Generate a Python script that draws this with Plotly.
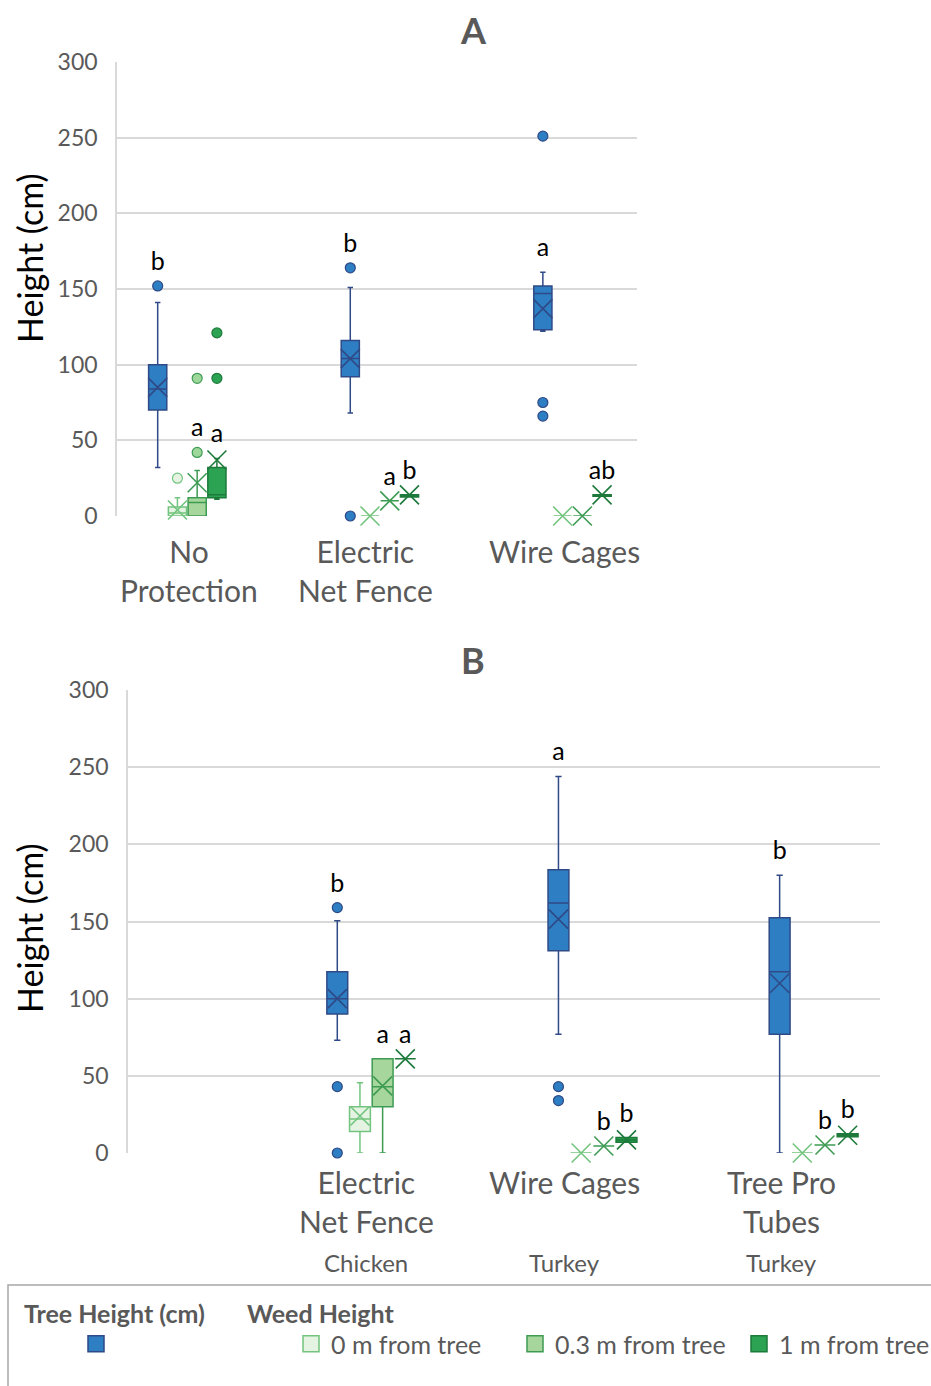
import plotly.graph_objects as go

W, H = 931, 1386
FONT = "Lato, 'Open Sans', sans-serif"
GRAY = "#595959"

# ---------------- Panel A ----------------
cats_a = ["No Protection", "Electric Net Fence", "Wire Cages"]
ticks_a = ["No<br>Protection", "Electric<br>Net Fence", "Wire Cages"]

tree_a_q1 = [70, 92, 123]
tree_a_med = [84, 104, 147]
tree_a_q3 = [100, 116, 152]
tree_a_lo = [32, 68, 122]
tree_a_hi = [141, 151, 161]
tree_a_mean = [85, 104, 137]
tree_a_out = [[152], [164, 0], [251, 75, 66]]
tree_a_sig = ["b", "b", "a"]

w0_a_q1 = [0, 0, 0]
w0_a_med = [2, 0, 0]
w0_a_q3 = [6, 0, 0]
w0_a_lo = [0, 0, 0]
w0_a_hi = [12, 0, 0]
w0_a_mean = [4, 0, 0]
w0_a_out = [[25], [], []]
w0_a_sig = ["", "", ""]

w03_a_q1 = [0, 10, 0]
w03_a_med = [9, 10, 0]
w03_a_q3 = [12, 10, 0]
w03_a_lo = [0, 10, 0]
w03_a_hi = [30, 10, 0]
w03_a_mean = [22, 10, 0]
w03_a_out = [[42, 91], [], []]
w03_a_sig = ["a", "a", ""]

w1_a_q1 = [12, 12.5, 13]
w1_a_med = [14, 13, 14]
w1_a_q3 = [32, 14, 14]
w1_a_lo = [11, 12.5, 13]
w1_a_hi = [38, 14, 14]
w1_a_mean = [37, 14, 14]
w1_a_out = [[91, 121], [], []]
w1_a_sig = ["a", "b", "ab"]

# ---------------- Panel B ----------------
cats_b = ["Electric Net Fence", "Wire Cages", "Tree Pro Tubes"]
ticks_b = ["Electric<br>Net Fence", "Wire Cages", "Tree Pro<br>Tubes"]
animals_b = ["Chicken", "Turkey", "Turkey"]

tree_b_q1 = [90, 131, 77]
tree_b_med = [100, 162, 117.5]
tree_b_q3 = [117.5, 183.5, 152.5]
tree_b_lo = [73, 77, 0]
tree_b_hi = [150.5, 244, 180]
tree_b_mean = [100, 151.5, 110]
tree_b_out = [[159, 43, 0], [43, 34], []]
tree_b_sig = ["b", "a", "b"]

w0_b_q1 = [14, 0, 0]
w0_b_med = [22, 0, 0]
w0_b_q3 = [30, 0, 0]
w0_b_lo = [0, 0, 0]
w0_b_hi = [45.5, 0, 0]
w0_b_mean = [24, 0, 0]
w0_b_out = [[], [], []]
w0_b_sig = ["", "", ""]

w03_b_q1 = [30, 4.5, 5.2]
w03_b_med = [43, 4.5, 5.2]
w03_b_q3 = [61, 4.5, 5.2]
w03_b_lo = [0, 4.5, 5.2]
w03_b_hi = [61, 4.5, 5.2]
w03_b_mean = [43.5, 4.5, 5.2]
w03_b_out = [[], [], []]
w03_b_sig = ["a", "b", "b"]

w1_b_q1 = [61, 7, 10.5]
w1_b_med = [61, 8.5, 11.5]
w1_b_q3 = [61, 10, 12.5]
w1_b_lo = [61, 7, 10.5]
w1_b_hi = [61, 10, 12.5]
w1_b_mean = [61, 8.5, 11.5]
w1_b_out = [[], [], []]
w1_b_sig = ["a", "b", "b"]

series_keys = ["tree", "w0", "w03", "w1"]
series_names = ["", "0 m from tree", "0.3 m from tree", "1 m from tree"]
series_legend = ["legend", "legend2", "legend2", "legend2"]
fill_colors = ["#2E7EC3", "#E4F3E2", "#A6D69B", "#2BA352"]
line_colors = ["#2F4A86", "#72C47E", "#3E9B54", "#1D7A3B"]
dot_fills = ["#2E7EC3", "#E4F3E2", "#9ED79A", "#2BA352"]

# horizontal nudges (px) for the category captions under each panel
label_shift_a = [2, -14, -8]
label_shift_b = [-5, -28, -32]


def pack(q1, med, q3, lo, hi, mean, out, sig):
    return dict(q1=q1, med=med, q3=q3, lo=lo, hi=hi, mean=mean, out=out, sig=sig)


panel_a = [
    pack(tree_a_q1, tree_a_med, tree_a_q3, tree_a_lo, tree_a_hi, tree_a_mean, tree_a_out, tree_a_sig),
    pack(w0_a_q1, w0_a_med, w0_a_q3, w0_a_lo, w0_a_hi, w0_a_mean, w0_a_out, w0_a_sig),
    pack(w03_a_q1, w03_a_med, w03_a_q3, w03_a_lo, w03_a_hi, w03_a_mean, w03_a_out, w03_a_sig),
    pack(w1_a_q1, w1_a_med, w1_a_q3, w1_a_lo, w1_a_hi, w1_a_mean, w1_a_out, w1_a_sig),
]
panel_b = [
    pack(tree_b_q1, tree_b_med, tree_b_q3, tree_b_lo, tree_b_hi, tree_b_mean, tree_b_out, tree_b_sig),
    pack(w0_b_q1, w0_b_med, w0_b_q3, w0_b_lo, w0_b_hi, w0_b_mean, w0_b_out, w0_b_sig),
    pack(w03_b_q1, w03_b_med, w03_b_q3, w03_b_lo, w03_b_hi, w03_b_mean, w03_b_out, w03_b_sig),
    pack(w1_b_q1, w1_b_med, w1_b_q3, w1_b_lo, w1_b_hi, w1_b_mean, w1_b_out, w1_b_sig),
]

fig = go.Figure()


def add_panel(cats, stats, xa, ya):
    # boxes first so they sit under the mean markers and letters
    for i, s in enumerate(stats):
        fig.add_trace(go.Box(
            x=cats, q1=s["q1"], median=s["med"], q3=s["q3"],
            lowerfence=s["lo"], upperfence=s["hi"],
            boxpoints=False, whiskerwidth=0.3,
            fillcolor=fill_colors[i], line=dict(color=line_colors[i], width=1.5),
            name=series_names[i] or "Tree Height (cm)", offsetgroup=series_keys[i],
            showlegend=False, xaxis=xa, yaxis=ya,
        ))
    for i, s in enumerate(stats):
        # mean marker (X)
        fig.add_trace(go.Scatter(
            x=cats, y=s["mean"], mode="markers", offsetgroup=series_keys[i],
            marker=dict(symbol="x-thin-open", size=19, color=line_colors[i],
                        line=dict(color=line_colors[i], width=1.6)),
            cliponaxis=False, showlegend=False, hoverinfo="skip",
            xaxis=xa, yaxis=ya,
        ))
        # outliers
        ox, oy = [], []
        for c, vals in zip(cats, s["out"]):
            ox += [c] * len(vals)
            oy += vals
        fig.add_trace(go.Scatter(
            x=ox, y=oy, mode="markers", offsetgroup=series_keys[i],
            marker=dict(symbol="circle", size=10, color=dot_fills[i],
                        line=dict(color=line_colors[i], width=1.2)),
            cliponaxis=False, showlegend=False,
            xaxis=xa, yaxis=ya,
        ))
        # significance letters, anchored above the upper whisker / nearby outliers
        lx, ly, lt = [], [], []
        for j, c in enumerate(cats):
            if not s["sig"][j]:
                continue
            top = max(s["hi"][j], s["mean"][j], s["q3"][j])
            near = [v for v in s["out"][j] if top < v <= top + 30]
            if near:
                top = max(near)
            lx.append(c)
            ly.append(top)
            lt.append(s["sig"][j])
        fig.add_trace(go.Scatter(
            x=lx, y=ly, text=lt, mode="markers+text", offsetgroup=series_keys[i],
            textposition="top center", textfont=dict(size=25, color="black", family=FONT),
            marker=dict(size=14, color="rgba(0,0,0,0)"),
            cliponaxis=False, showlegend=False, hoverinfo="skip",
            xaxis=xa, yaxis=ya,
        ))


add_panel(cats_a, panel_a, "x", "y")
add_panel(cats_b, panel_b, "x2", "y2")

# legend swatches live on their own hidden axes so they do not join the box groups
for i in range(4):
    fig.add_trace(go.Scatter(
        x=[None], y=[None], mode="markers", name=series_names[i],
        marker=dict(symbol="square", size=16, color=fill_colors[i],
                    line=dict(color=line_colors[i], width=1.5)),
        legend=series_legend[i], showlegend=True, xaxis="x3", yaxis="y3",
    ))

xcommon = dict(type="category", showgrid=False, showline=False, zeroline=False,
               ticks="", showticklabels=False, automargin=False)
ycommon = dict(range=[0, 300], dtick=50, showgrid=True, gridcolor="#D9D9D9", gridwidth=1.5,
               showline=True, linecolor="#D9D9D9", linewidth=1.5, zeroline=False,
               ticks="", tickfont=dict(size=23, color=GRAY, family=FONT),
               ticklabelstandoff=13, automargin=False)

legend_font = dict(size=25, color=GRAY, family=FONT)
fig.update_layout(
    width=W, height=H, template="none",
    paper_bgcolor="white", plot_bgcolor="white",
    margin=dict(l=0, r=0, t=0, b=0, autoexpand=False),
    font=dict(family=FONT, color=GRAY),
    boxmode="group", boxgap=0.59, boxgroupgap=0.08,
    scattermode="group", scattergap=0.59,
    xaxis=dict(xcommon, domain=[117 / W, 637 / W], anchor="y", range=[-0.365, 2.335]),
    yaxis=dict(ycommon, domain=[1 - 516 / H, 1 - 62 / H], anchor="x"),
    xaxis2=dict(xcommon, domain=[128 / W, 880 / W], anchor="y2", range=[-1.1, 2.3]),
    yaxis2=dict(ycommon, domain=[1 - 1153 / H, 1 - 690 / H], anchor="x2"),
    xaxis3=dict(visible=False, domain=[0, 0.01], anchor="y3"),
    yaxis3=dict(visible=False, domain=[0, 0.01], anchor="x3"),
    legend=dict(orientation="h", x=76 / W, y=1 - 1344 / H, yanchor="middle", xanchor="left",
                font=legend_font, bgcolor="rgba(0,0,0,0)"),
    legend2=dict(orientation="h", x=291 / W, y=1 - 1344 / H, yanchor="middle", xanchor="left",
                 font=legend_font, bgcolor="rgba(0,0,0,0)",
                 entrywidth=179, entrywidthmode="pixels"),
)

annotations = [
    dict(text="<b>A</b>", x=473 / W, y=1 - 30 / H, font=dict(size=36, color=GRAY)),
    dict(text="<b>B</b>", x=473 / W, y=1 - 660 / H, font=dict(size=36, color=GRAY)),
    dict(text="Height (cm)", x=29 / W, y=1 - 258 / H, textangle=-90,
         font=dict(size=34, color="black")),
    dict(text="Height (cm)", x=29 / W, y=1 - 928 / H, textangle=-90,
         font=dict(size=34, color="black")),
    dict(text="<b>Tree Height (cm)</b>", x=22 / W, y=1 - 1313 / H, xanchor="left",
         font=dict(size=25, color=GRAY)),
    dict(text="<b>Weed Height</b>", x=245 / W, y=1 - 1313 / H, xanchor="left",
         font=dict(size=25, color=GRAY)),
]
for a in annotations:
    a.update(xref="paper", yref="paper", showarrow=False)
    a.setdefault("xanchor", "center")
    a["yanchor"] = "middle"
    a["font"]["family"] = FONT

cat_font = dict(size=30, color=GRAY, family=FONT)
for c, t, dx in zip(cats_a, ticks_a, label_shift_a):
    annotations.append(dict(text=t, x=c, xref="x", y=1 - 531 / H, yref="paper",
                            xshift=dx, showarrow=False, yanchor="top", font=cat_font))
for c, t, dx in zip(cats_b, ticks_b, label_shift_b):
    annotations.append(dict(text=t, x=c, xref="x2", y=1 - 1162 / H, yref="paper",
                            xshift=dx, showarrow=False, yanchor="top", font=cat_font))
for c, animal, dx in zip(cats_b, animals_b, label_shift_b):
    annotations.append(dict(text=animal, x=c, xref="x2", y=1 - 1262 / H, yref="paper",
                            xshift=dx, showarrow=False, yanchor="middle",
                            font=dict(size=24, color=GRAY, family=FONT)))

fig.update_layout(annotations=annotations)

# frame around the legend area
fig.add_shape(type="rect", xref="paper", yref="paper",
              x0=8 / W, x1=1.02, y0=-0.02, y1=1 - 1285 / H,
              line=dict(color="#A6A6A6", width=1.5), fillcolor="rgba(0,0,0,0)", layer="below")

fig.write_html("out.html")
